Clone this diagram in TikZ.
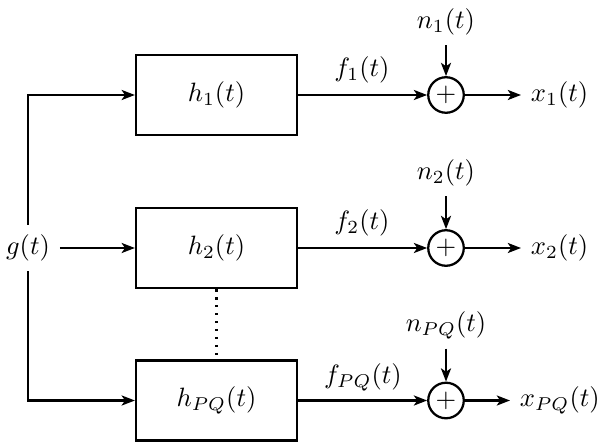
\documentclass[tikz,border=0pt]{standalone}
\usetikzlibrary{arrows.meta}
\begin{document}
\begin{tikzpicture}[x=0.377pt,y=-0.377pt,
  line width=0.85pt,
  arr/.style={-{Stealth[length=5pt,width=3.8pt,inset=1.3pt]}},
  blk/.style={draw,rectangle,minimum width=60.7pt,minimum height=30.2pt,inner sep=0pt},
  sumnode/.style={draw,circle,minimum size=13.4pt,inner sep=0pt},
  lbl/.style={inner sep=3.33pt}]
\useasboundingbox (0,0) rectangle (600,446);
% blocks
\node[blk] (h1) at (216.5,95) {$h_1(t)$};
\node[blk] (h2) at (216.5,248) {$h_2(t)$};
\node[blk] (h3) at (216.5,400.5) {$h_{PQ}(t)$};
% input
\node[lbl] (g) at (28,248) {$g(t)$};
\draw[arr] (g.north) |- (h1.west);
\draw[arr] (g.east) -- (h2.west);
\draw[arr] (g.south) |- (h3.west);
% dots
\draw[dash pattern=on 0.9pt off 2.1pt] (h2.south) -- (h3.north);
% adders
\node[sumnode] (s1) at (446,95) {$+$};
\node[sumnode] (s2) at (446,248) {$+$};
\node[sumnode] (s3) at (446,400.5) {$+$};
\draw[arr] (h1.east) -- (s1.west);
\draw[arr] (h2.east) -- (s2.west);
\draw[arr] (h3.east) -- (s3.west);
\node (f1) at (362,70) {$f_1(t)$};
\node (f2) at (362,223) {$f_2(t)$};
\node (f3) at (363,377) {$f_{PQ}(t)$};
% noise
\node[lbl] (n1) at (446,22) {$n_1(t)$};
\node[lbl] (n2) at (446,173) {$n_2(t)$};
\node[lbl] (n3) at (446,325) {$n_{PQ}(t)$};
\draw[arr] (n1.south) -- (s1.north);
\draw[arr] (n2.south) -- (s2.north);
\draw[arr] (n3.south) -- (s3.north);
% outputs
\node[lbl,anchor=west] (x1) at (521,95) {$x_1(t)$};
\node[lbl,anchor=west] (x2) at (521,248) {$x_2(t)$};
\node[lbl,anchor=west] (x3) at (510,400.5) {$x_{PQ}(t)$};
\draw[arr] (s1.east) -- (x1.west);
\draw[arr] (s2.east) -- (x2.west);
\draw[arr] (s3.east) -- (x3.west);
\end{tikzpicture}
\end{document}
